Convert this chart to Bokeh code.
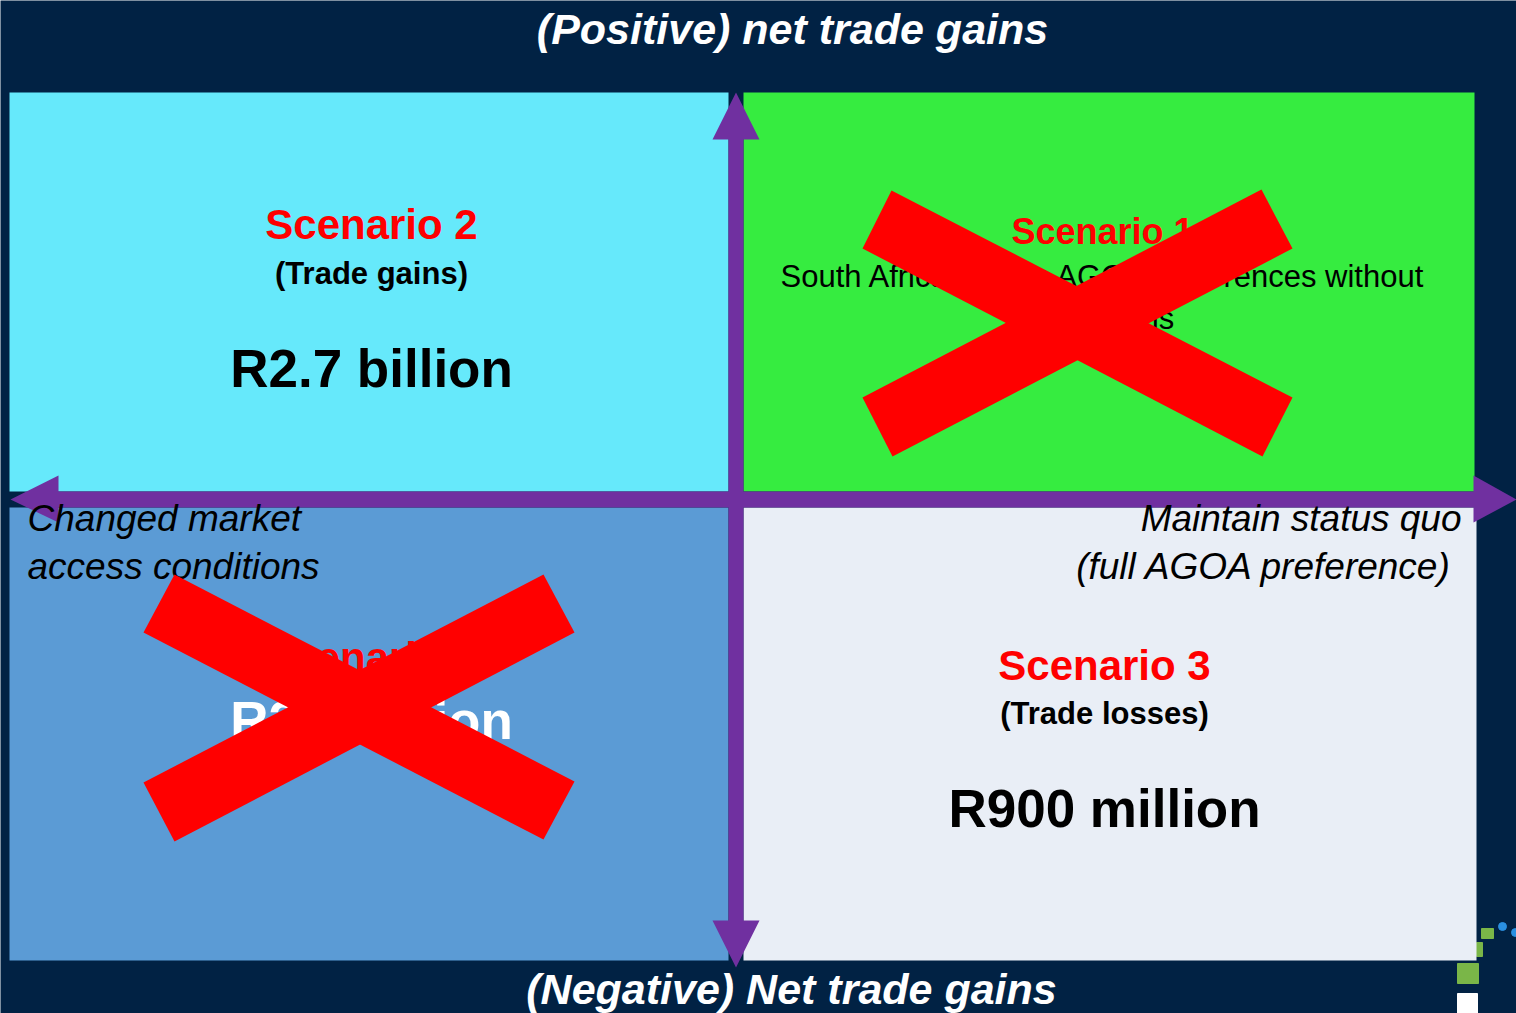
from bokeh.plotting import figure
from bokeh.models import Range1d
from bokeh.embed import file_html
from bokeh.resources import INLINE
from bokeh.core.properties import value

# ---- data (pixel-like layout units of the slide, y grows downward) ----
BG = "#012244"
quad_names = ["Scenario 2", "Scenario 1", "Scenario 4", "Scenario 3"]
quad_left = [9, 743, 9, 743]
quad_right = [728, 1474, 728, 1476]
quad_top = [92, 92, 507, 507]
quad_bottom = [491, 491, 960, 960]
quad_colors = ["#66E9FB", "#36EC40", "#5B9BD5", "#E9EEF6"]

# axes arrows (shaft + heads)
v_shaft = dict(left=728, right=743, top=130, bottom=930)
h_shaft = dict(left=50, right=1480, top=491, bottom=507)
head_xs = [[712, 735.5, 759], [712, 735.5, 759], [10, 58, 58], [1473, 1516, 1473]]
head_ys = [[139, 92, 139], [920, 967, 920], [499, 475, 522], [475, 499, 522]]
ARROW = "#7030A0"

# crosses over scenario 1 and 4
cross_xs = [[891, 1292, 1262, 862], [1261, 1292, 892, 862],
            [174, 574, 543, 143], [543, 574, 174, 143]]
cross_ys = [[190, 397, 456, 248], [189, 248, 456, 397],
            [574, 781, 839, 632], [574, 632, 841, 782]]

# texts
titles_txt = ["(Positive) net trade gains", "(Negative) Net trade gains"]
titles_x = [792, 791]
titles_y = [28, 988]

scen_txt = ["Scenario 2", "Scenario 3", "Scenario 4"]
scen_x = [371, 1104, 371]
scen_y = [224, 665, 657]

sub_txt = ["(Trade gains)", "(Trade losses)"]
sub_x = [371, 1104]
sub_y = [273, 713]

val_txt = ["R2.7 billion", "R900 million"]
val_x = [371, 1104]
val_y = [368, 808]

s4_val = ["R2.1 billion"]
s4_x = [371]
s4_y = [720]

s1_title = ["Scenario 1"]
s1_x = [1102]
s1_y = [231]
s1_lines = ["South Africa retains AGOA preferences without", "conditions"]
s1_lx = [1104, 1104]
s1_ly = [276, 318]

left_lbl = ["Changed market", "access conditions"]
left_x = [27, 27]
left_y = [518, 566]
right_lbl = ["Maintain status quo", "(full AGOA preference)"]
right_x = [1461, 1452]
right_y = [518, 566]

# logo fragments bottom-right
logo_l = [1457, 1481, 1476]
logo_r = [1478, 1493, 1482]
logo_t = [963, 928, 942]
logo_b = [983, 938, 956]
dot_x = [1502, 1515]
dot_y = [926, 932]

W, H = 1516, 1013
p = figure(width=W, height=H, output_backend="svg", toolbar_location=None,
           x_range=Range1d(0, W), y_range=Range1d(H, 0),
           min_border=0, background_fill_color=BG, border_fill_color=BG,
           outline_line_color=None)
p.axis.visible = False
p.grid.visible = False

FONT = value("Liberation Sans")

# logo behind
p.quad(left=logo_l, right=logo_r, top=logo_t, bottom=logo_b, color="#7AB648")
p.scatter(x=dot_x, y=dot_y, size=8, color="#2A8FE0")
p.quad(left=[1457], right=[1477], top=[993], bottom=[1013], color="white")

# quadrants
p.quad(left=quad_left, right=quad_right, top=quad_top, bottom=quad_bottom,
       color=quad_colors, line_color=None)

# arrows
p.quad(left=[v_shaft["left"]], right=[v_shaft["right"]], top=[v_shaft["top"]],
       bottom=[v_shaft["bottom"]], color=ARROW, line_color=None)
p.quad(left=[h_shaft["left"]], right=[h_shaft["right"]], top=[h_shaft["top"]],
       bottom=[h_shaft["bottom"]], color=ARROW, line_color=None)
p.patches(xs=head_xs, ys=head_ys, color=ARROW, line_color=None)

# titles
p.text(x=titles_x, y=titles_y, text=titles_txt, text_color="white",
       text_font=FONT, text_font_size="43px", text_font_style="bold italic",
       text_align="center", text_baseline="middle")

p.text(x=scen_x, y=scen_y, text=scen_txt, text_color="#FF0000",
       text_font=FONT, text_font_size="42px", text_font_style="bold",
       text_align="center", text_baseline="middle")
p.text(x=sub_x, y=sub_y, text=sub_txt, text_color="black",
       text_font=FONT, text_font_size="31px", text_font_style="bold",
       text_align="center", text_baseline="middle")
p.text(x=val_x, y=val_y, text=val_txt, text_color="black",
       text_font=FONT, text_font_size="53px", text_font_style="bold",
       text_align="center", text_baseline="middle")
p.text(x=s4_x, y=s4_y, text=s4_val, text_color="white",
       text_font=FONT, text_font_size="53px", text_font_style="bold",
       text_align="center", text_baseline="middle")

p.text(x=s1_x, y=s1_y, text=s1_title, text_color="#FF0000",
       text_font=FONT, text_font_size="36px", text_font_style="bold",
       text_align="center", text_baseline="middle")
p.text(x=s1_lx, y=s1_ly, text=s1_lines, text_color="black",
       text_font=FONT, text_font_size="31px",
       text_align="center", text_baseline="middle")

p.text(x=left_x, y=left_y, text=left_lbl, text_color="black",
       text_font=FONT, text_font_size="37px", text_font_style="italic",
       text_align="left", text_baseline="middle")
p.text(x=right_x, y=right_y, text=right_lbl, text_color="black",
       text_font=FONT, text_font_size="37px", text_font_style="italic",
       text_align="right", text_baseline="middle")

# red crosses on top
p.patches(xs=cross_xs, ys=cross_ys, color="#FF0000", line_color=None)

open("out.html", "w").write(file_html(p, INLINE))
